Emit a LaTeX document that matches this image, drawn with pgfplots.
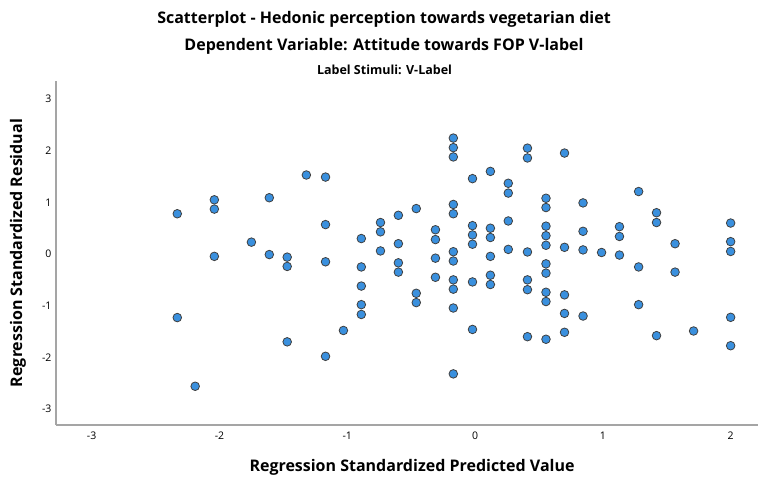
\documentclass[border=0pt]{standalone}
\usepackage{pgfplots}
\pgfplotsset{compat=1.18}
\usepackage{fontspec}
\setmainfont{Open Sans}

\definecolor{dotblue}{RGB}{58,144,222}
\definecolor{axisgray}{RGB}{165,165,165}

% Standardized predicted value vs. standardized residual
\pgfplotstableread{
x y
-2.33 0.78
-2.33 -1.23
-2.19 -2.56
-2.04 1.05
-2.04 0.87
-2.04 -0.045
-1.75 0.23
-1.61 1.09
-1.61 -0.01
-1.47 -0.06
-1.47 -0.24
-1.47 -1.70
-1.32 1.53
-1.17 1.49
-1.17 0.57
-1.17 -0.15
-1.17 -1.98
-1.03 -1.48
-0.89 0.30
-0.89 -0.25
-0.89 -0.62
-0.89 -0.98
-0.89 -1.17
-0.74 0.61
-0.74 0.43
-0.74 0.06
-0.60 0.75
-0.60 0.20
-0.60 -0.17
-0.60 -0.35
-0.46 0.88
-0.46 -0.76
-0.46 -0.94
-0.31 0.47
-0.31 0.28
-0.31 -0.08
-0.31 -0.45
-0.17 2.245
-0.17 2.06
-0.17 1.88
-0.17 0.96
-0.17 0.78
-0.17 0.045
-0.17 -0.135
-0.17 -0.50
-0.17 -0.68
-0.17 -1.045
-0.17 -2.32
-0.02 1.46
-0.02 0.55
-0.02 0.37
-0.02 0.19
-0.02 -0.54
-0.02 -1.46
0.12 1.60
0.12 0.50
0.12 0.32
0.12 -0.045
0.12 -0.41
0.12 -0.59
0.26 1.37
0.26 1.18
0.26 0.64
0.26 0.09
0.41 2.05
0.41 1.86
0.41 0.04
0.41 -0.50
0.41 -0.69
0.41 -1.60
0.555 1.08
0.555 0.90
0.555 0.54
0.555 0.355
0.555 0.17
0.555 -0.19
0.555 -0.37
0.555 -0.74
0.555 -0.92
0.555 -1.65
0.70 1.955
0.70 0.13
0.70 -0.79
0.70 -1.15
0.70 -1.515
0.845 0.99
0.845 0.44
0.845 0.08
0.845 -1.20
0.99 0.03
1.13 0.53
1.13 0.34
1.13 -0.02
1.28 1.21
1.28 -0.25
1.28 -0.98
1.42 0.80
1.42 0.61
1.42 -1.58
1.565 0.20
1.565 -0.35
1.71 -1.49
2.00 0.60
2.00 0.24
2.00 0.05
2.00 -1.225
2.00 -1.775
}\residuals

\begin{document}
\begin{tikzpicture}
\begin{axis}[
  name=ax,
  anchor=south west,
  at={(0pt,0pt)},
  scale only axis,
  width=702pt, height=344pt,
  xmin=-3.279, xmax=2.214,
  ymin=-3.31, ymax=3.35,
  axis x line=bottom, axis y line=left,
  axis line style={-, draw=axisgray, line width=1.3pt},
  xtick={-3,-2,-1,0,1,2},
  xticklabels={-3,-2,-1,0,1,2},
  ytick={-3,-2,-1,0,1,2,3},
  yticklabels={-3,-2,-1,0,1,2,3},
  major tick length=0pt,
  tick label style={font=\fontsize{10.5}{12}\selectfont, text=black},
  xticklabel shift=3.5pt,
  yticklabel shift=1pt,
  clip=false,
]
\addplot[only marks, mark=*, mark size=4.3pt,
  mark options={fill=dotblue, draw=black!75, line width=0.8pt}]
  table[x=x, y=y] {\residuals};
\end{axis}

\node[anchor=base, font=\bfseries\fontsize{16}{18}\selectfont]
  at (328pt,401.7pt) {Scatterplot - Hedonic perception towards vegetarian diet};
\node[anchor=base, font=\bfseries\fontsize{16}{18}\selectfont]
  at (328pt,374.5pt) {Dependent Variable: Attitude towards FOP V-label};
\node[anchor=base, font=\bfseries\fontsize{12.5}{14}\selectfont]
  at (328.5pt,350pt) {Label Stimuli: V-Label};
\node[rotate=90, anchor=center, font=\bfseries\fontsize{16}{18}\selectfont]
  at (-38pt,172pt) {Regression Standardized Residual};
\node[anchor=base, font=\bfseries\fontsize{16}{18}\selectfont]
  at (356pt,-46.7pt) {Regression Standardized Predicted Value};

\pgfresetboundingbox
\path (-56pt,-52pt) rectangle (702pt,425pt);
\end{tikzpicture}
\end{document}
